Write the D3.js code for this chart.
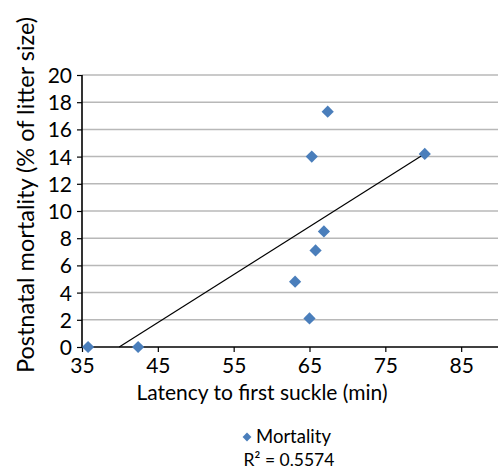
<!DOCTYPE html>
<html>
<head>
<meta charset="utf-8">
<script src="https://cdn.jsdelivr.net/npm/d3@7"></script>
<style>
  body { margin: 0; background: #fff; }
  svg { display: block; font-family: Lato, "Open Sans", sans-serif; }
</style>
</head>
<body>
<svg id="chart"></svg>
<script>
// latency to first suckle (min) vs postnatal mortality (% of litter size)
var latency   = [35.8, 42.4, 67.4, 65.3, 80.2, 66.9, 65.8, 63.1, 65.0];
var mortality = [0, 0, 17.3, 14.0, 14.2, 8.5, 7.1, 4.8, 2.1];
var xTicks = [35, 45, 55, 65, 75, 85];
var yTicks = [0, 2, 4, 6, 8, 10, 12, 14, 16, 18, 20];
var seriesName = "Mortality";
var r2Label = "R\u00b2 = 0.5574";

var width = 498, height = 474;
var svg = d3.select("#chart")
    .attr("width", width)
    .attr("height", height);

var x = d3.scaleLinear().domain([35, 95]).range([82, 537]);
var y = d3.scaleLinear().domain([0, 20]).range([347, 75]);

// gridlines
svg.append("g")
  .selectAll("line")
  .data(yTicks.filter(d => d > 0))
  .enter().append("line")
    .attr("x1", x(35)).attr("x2", width)
    .attr("y1", d => y(d)).attr("y2", d => y(d))
    .attr("stroke", "#b8b8b8")
    .attr("stroke-width", 1.5);

// y axis
var yAxis = svg.append("g")
    .attr("transform", "translate(" + x(35) + ",0)")
    .call(d3.axisLeft(y).tickValues(yTicks).tickSize(5).tickPadding(5));
// x axis
var xAxis = svg.append("g")
    .attr("transform", "translate(0," + y(0) + ")")
    .call(d3.axisBottom(x).tickValues(xTicks).tickSize(5).tickPadding(6));

[yAxis, xAxis].forEach(function(g) {
  g.select(".domain").attr("stroke", "#000").attr("stroke-width", 1.6);
  g.selectAll(".tick line").attr("stroke", "#000").attr("stroke-width", 1.2);
  g.selectAll(".tick text")
    .attr("fill", "#000")
    .style("font-family", "Lato, sans-serif")
    .style("font-size", "21px");
});
yAxis.select(".domain").attr("d", "M0," + y(0) + "V" + y(20));
xAxis.select(".domain").attr("d", "M" + x(35) + ",0H" + width);
yAxis.selectAll(".tick text").attr("dy", "0.36em");

// linear trendline fitted to the points
var pts = latency.map((d, i) => ({x: d, y: mortality[i]}));
var mx = d3.mean(latency), my = d3.mean(mortality);
var sxy = d3.sum(pts, p => (p.x - mx) * (p.y - my));
var sxx = d3.sum(pts, p => (p.x - mx) * (p.x - mx));
var slope = sxy / sxx, icpt = my - slope * mx;
var xStart = Math.max(d3.min(latency), -icpt / slope);
var xEnd = d3.max(latency);
svg.append("line")
    .attr("x1", x(xStart)).attr("y1", y(slope * xStart + icpt))
    .attr("x2", x(xEnd)).attr("y2", y(slope * xEnd + icpt))
    .attr("stroke", "#000")
    .attr("stroke-width", 1.2);

// points
var diamond = d3.symbol().type(d3.symbolDiamond2).size(95);
svg.append("g")
  .selectAll("path")
  .data(pts)
  .enter().append("path")
    .attr("d", diamond)
    .attr("transform", d => "translate(" + x(d.x) + "," + y(d.y) + ")")
    .attr("fill", "#4a7ebb");

// axis titles
svg.append("text")
    .attr("x", 262).attr("y", 400)
    .attr("text-anchor", "middle")
    .style("font-size", "21px")
    .text("Latency to first suckle (min)");

svg.append("text")
    .attr("transform", "translate(34,195) rotate(-90)")
    .attr("text-anchor", "middle")
    .style("font-size", "23.5px")
    .text("Postnatal mortality (% of litter size)");

// legend
svg.append("path")
    .attr("d", d3.symbol().type(d3.symbolDiamond2).size(50))
    .attr("transform", "translate(247,437)")
    .attr("fill", "#4a7ebb");
svg.append("text")
    .attr("x", 256).attr("y", 443)
    .style("font-size", "18.5px")
    .text(seriesName);
svg.append("text")
    .attr("x", 289).attr("y", 466)
    .attr("text-anchor", "middle")
    .style("font-size", "17.5px")
    .text(r2Label);
</script>
</body>
</html>
